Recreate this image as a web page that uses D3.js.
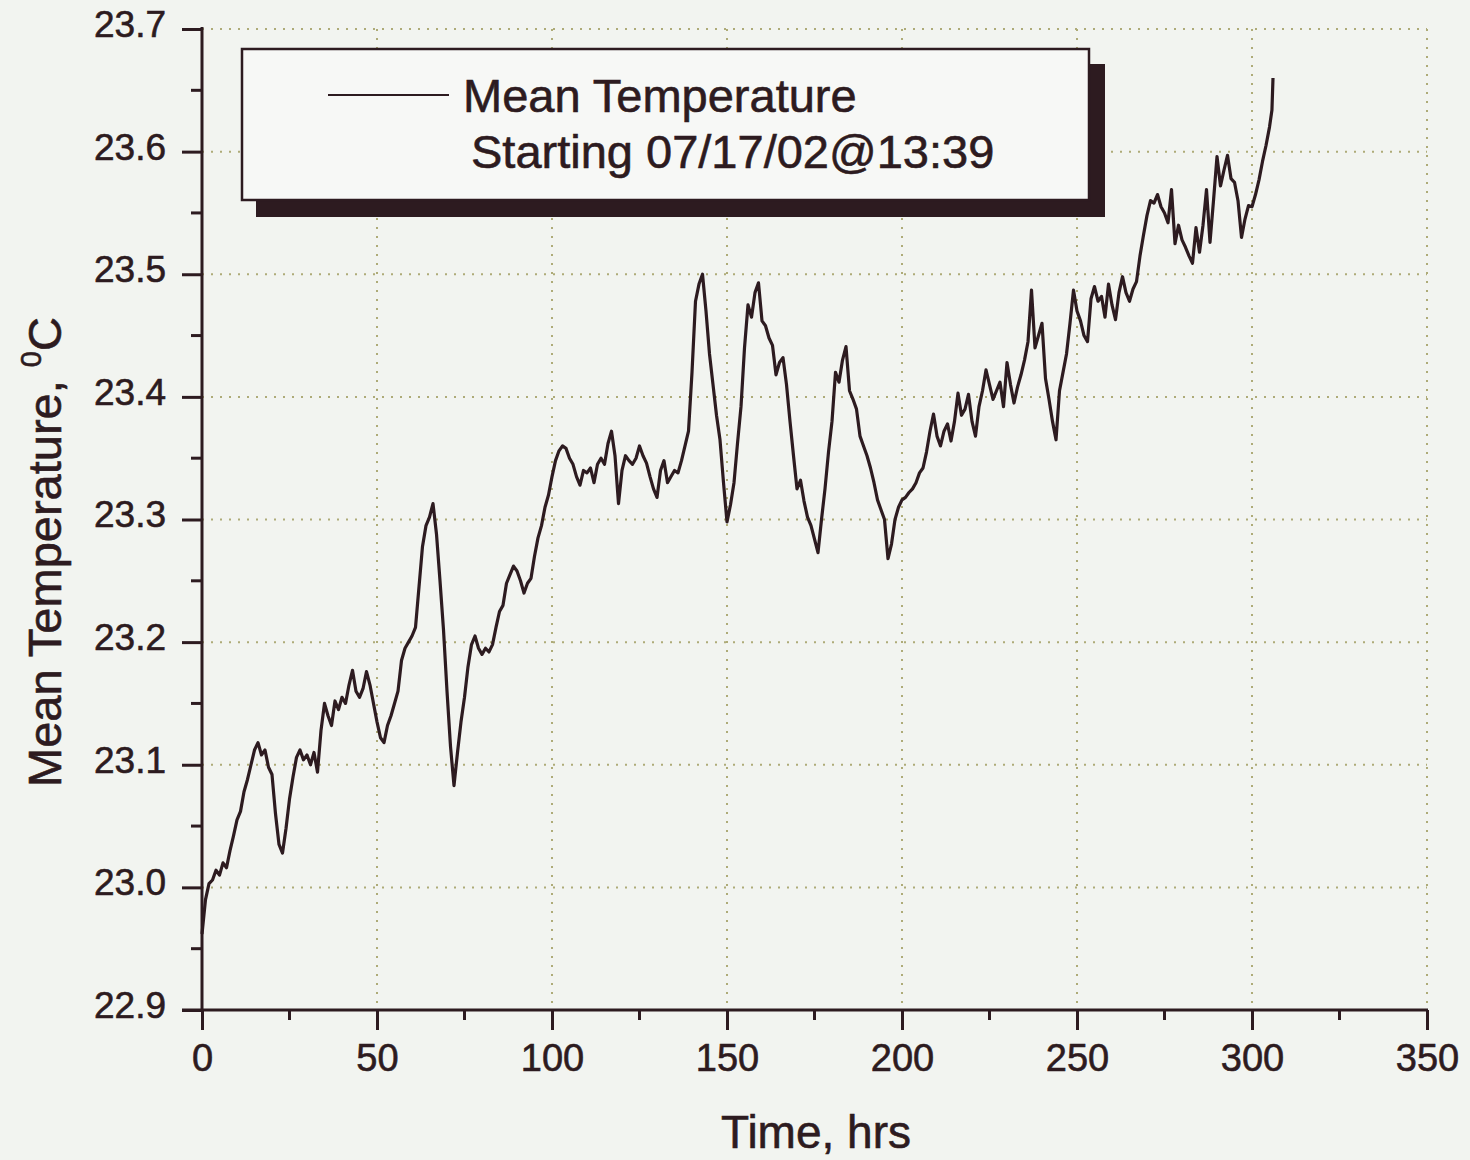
<!DOCTYPE html>
<html>
<head>
<meta charset="utf-8">
<script src="https://cdn.jsdelivr.net/npm/d3@7"></script>
<style>
  html, body { margin: 0; padding: 0; background: #f2f4f0; }
  svg { display: block; }
  text { font-family: "Liberation Sans", Arial, sans-serif; fill: #2d1b20; stroke: #2d1b20; stroke-width: 0.6px; }
</style>
</head>
<body>
<svg id="chart" width="1470" height="1160"></svg>
<script>
// ---- data ----
const timeHrs = [0,1,2,3,4,5,6,7,8,9,10,11,12,13,14,15,16,17,18,19,20,21,22,23,24,25,26,27,28,29,30,31,32,33,34,35,36,37,38,39,40,41,42,43,44,45,46,47,48,49,50,51,52,53,54,55,56,57,58,59,60,61,62,63,64,65,66,67,68,69,70,71,72,73,74,75,76,77,78,79,80,81,82,83,84,85,86,87,88,89,90,91,92,93,94,95,96,97,98,99,100,101,102,103,104,105,106,107,108,109,110,111,112,113,114,115,116,117,118,119,120,121,122,123,124,125,126,127,128,129,130,131,132,133,134,135,136,137,138,139,140,141,142,143,144,145,146,147,148,149,150,151,152,153,154,155,156,157,158,159,160,161,162,163,164,165,166,167,168,169,170,171,172,173,174,175,176,177,178,179,180,181,182,183,184,185,186,187,188,189,190,191,192,193,194,195,196,197,198,199,200,201,202,203,204,205,206,207,208,209,210,211,212,213,214,215,216,217,218,219,220,221,222,223,224,225,226,227,228,229,230,231,232,233,234,235,236,237,238,239,240,241,242,243,244,245,246,247,248,249,250,251,252,253,254,255,256,257,258,259,260,261,262,263,264,265,266,267,268,269,270,271,272,273,274,275,276,277,278,279,280,281,282,283,284,285,286,287,288,289,290,291,292,293,294,295,296,297,298,299,300,301,302,303,304,305,305.7,306];
const meanTemp = [22.962,22.990,23.003,23.006,23.014,23.010,23.020,23.016,23.030,23.042,23.055,23.062,23.078,23.088,23.100,23.112,23.118,23.108,23.112,23.098,23.092,23.060,23.035,23.028,23.048,23.072,23.090,23.106,23.112,23.104,23.108,23.100,23.110,23.094,23.128,23.150,23.140,23.132,23.152,23.145,23.155,23.150,23.165,23.177,23.160,23.155,23.162,23.176,23.165,23.150,23.135,23.122,23.118,23.132,23.140,23.150,23.160,23.185,23.195,23.200,23.205,23.212,23.245,23.278,23.295,23.302,23.313,23.288,23.250,23.210,23.160,23.115,23.083,23.110,23.135,23.155,23.180,23.198,23.205,23.195,23.190,23.195,23.192,23.198,23.212,23.225,23.230,23.248,23.255,23.262,23.258,23.250,23.240,23.248,23.252,23.270,23.285,23.295,23.310,23.320,23.335,23.348,23.356,23.360,23.358,23.350,23.345,23.335,23.328,23.340,23.338,23.342,23.330,23.345,23.350,23.345,23.362,23.372,23.352,23.313,23.340,23.352,23.348,23.345,23.350,23.360,23.352,23.346,23.335,23.325,23.318,23.340,23.348,23.330,23.335,23.340,23.338,23.348,23.360,23.372,23.420,23.478,23.492,23.500,23.470,23.435,23.410,23.385,23.365,23.330,23.298,23.312,23.330,23.362,23.392,23.440,23.475,23.465,23.485,23.493,23.462,23.458,23.448,23.442,23.418,23.428,23.432,23.410,23.380,23.352,23.325,23.332,23.315,23.302,23.295,23.284,23.273,23.300,23.325,23.355,23.380,23.420,23.412,23.430,23.441,23.405,23.398,23.390,23.368,23.360,23.352,23.342,23.330,23.316,23.308,23.300,23.268,23.280,23.300,23.310,23.316,23.318,23.322,23.325,23.330,23.338,23.342,23.355,23.372,23.386,23.368,23.360,23.372,23.378,23.364,23.380,23.403,23.385,23.390,23.402,23.380,23.368,23.392,23.405,23.422,23.410,23.398,23.405,23.412,23.392,23.428,23.410,23.395,23.408,23.418,23.430,23.445,23.487,23.440,23.450,23.460,23.415,23.398,23.380,23.365,23.405,23.420,23.435,23.460,23.487,23.470,23.462,23.450,23.445,23.480,23.490,23.478,23.482,23.465,23.492,23.475,23.463,23.485,23.498,23.485,23.478,23.488,23.494,23.515,23.532,23.548,23.560,23.558,23.565,23.555,23.550,23.542,23.569,23.525,23.540,23.528,23.522,23.515,23.509,23.538,23.518,23.540,23.569,23.526,23.560,23.596,23.572,23.585,23.597,23.578,23.575,23.560,23.530,23.545,23.556,23.555,23.565,23.577,23.592,23.605,23.620,23.634,23.660];
const xTicks = [0,50,100,150,200,250,300,350];
const yTicks = [22.9,23.0,23.1,23.2,23.3,23.4,23.5,23.6,23.7];
const yTickLabels = ["22.9","23.0","23.1","23.2","23.3","23.4","23.5","23.6","23.7"];
const legendLines = ["Mean Temperature", "Starting 07/17/02@13:39"];
const xTitle = "Time, hrs";

// ---- layout ----
const ink = "#2d1b20";
const svg = d3.select("#chart");
const plot = { left: 202, right: 1427, top: 29, bottom: 1010 };

const x = d3.scaleLinear().domain([0, 350]).range([plot.left, plot.right]);
const y = d3.scaleLinear().domain([22.9, 23.7]).range([plot.bottom, plot.top]);

// grid
const grid = svg.append("g").attr("stroke", "#aeab78").attr("stroke-width", 2)
  .attr("stroke-dasharray", "2,7").attr("fill", "none");
grid.selectAll("line.v").data(xTicks.filter(d => d > 0)).join("line")
  .attr("x1", d => x(d)).attr("x2", d => x(d)).attr("y1", plot.top).attr("y2", plot.bottom);
grid.selectAll("line.h").data(yTicks.filter(d => d > 22.9)).join("line")
  .attr("y1", d => y(d)).attr("y2", d => y(d)).attr("x1", plot.left).attr("x2", plot.right);

// axes
const xAxis = d3.axisBottom(x).tickValues(xTicks).tickSize(20).tickPadding(14)
  .tickFormat(d3.format("d"));
const gx = svg.append("g").attr("transform", `translate(0,${plot.bottom})`).call(xAxis);
gx.select(".domain").remove();
gx.selectAll(".tick line").attr("stroke", ink).attr("stroke-width", 3);
gx.selectAll(".tick text").attr("font-size", 38).attr("fill", ink)
  .attr("font-family", "Liberation Sans, Arial, sans-serif");
const xMinor = d3.range(25, 350, 50);
svg.append("g").selectAll("line").data(xMinor).join("line")
  .attr("x1", d => x(d)).attr("x2", d => x(d)).attr("y1", plot.bottom).attr("y2", plot.bottom + 10)
  .attr("stroke", ink).attr("stroke-width", 3);

const yAxis = d3.axisLeft(y).tickValues(yTicks).tickSize(20).tickPadding(16)
  .tickFormat((d, i) => yTickLabels[i]);
const gy = svg.append("g").attr("transform", `translate(${plot.left},0)`).call(yAxis);
gy.select(".domain").remove();
gy.selectAll(".tick line").attr("stroke", ink).attr("stroke-width", 3);
gy.selectAll(".tick text").attr("font-size", 37).attr("fill", ink).attr("dy", "0.2em")
  .attr("font-family", "Liberation Sans, Arial, sans-serif");
const yMinor = d3.range(8).map(i => 22.95 + i * 0.1);
svg.append("g").selectAll("line").data(yMinor).join("line")
  .attr("y1", d => y(d)).attr("y2", d => y(d)).attr("x1", plot.left - 11).attr("x2", plot.left)
  .attr("stroke", ink).attr("stroke-width", 3);

// axis lines
svg.append("line").attr("x1", plot.left).attr("x2", plot.left)
  .attr("y1", plot.top - 2).attr("y2", plot.bottom + 1.5).attr("stroke", ink).attr("stroke-width", 3);
svg.append("line").attr("x1", plot.left - 20).attr("x2", plot.right + 1)
  .attr("y1", plot.bottom).attr("y2", plot.bottom).attr("stroke", ink).attr("stroke-width", 3);

// data line
const line = d3.line().x((d, i) => x(timeHrs[i])).y(d => y(d));
svg.append("path").datum(meanTemp).attr("d", line)
  .attr("fill", "none").attr("stroke", ink).attr("stroke-width", 3.2)
  .attr("stroke-linejoin", "round");

// legend
const lg = svg.append("g");
lg.append("rect").attr("x", 256).attr("y", 64).attr("width", 849).attr("height", 153).attr("fill", ink);
lg.append("rect").attr("x", 242).attr("y", 49).attr("width", 847).attr("height", 151)
  .attr("fill", "#f7f8f6").attr("stroke", ink).attr("stroke-width", 2.5);
lg.append("line").attr("x1", 328).attr("x2", 449).attr("y1", 95).attr("y2", 95)
  .attr("stroke", ink).attr("stroke-width", 2);
lg.append("text").attr("x", 463).attr("y", 112).attr("font-size", 47).text(legendLines[0]);
lg.append("text").attr("x", 471).attr("y", 168).attr("font-size", 47).text(legendLines[1]);

// axis titles
svg.append("text").attr("x", 816).attr("y", 1148).attr("text-anchor", "middle")
  .attr("font-size", 46).text(xTitle);
const yt = svg.append("text").attr("transform", "translate(61,552) rotate(-90)")
  .attr("text-anchor", "middle").attr("font-size", 47);
yt.append("tspan").text("Mean Temperature, ");
yt.append("tspan").attr("font-size", 29).attr("dy", -20).text("0");
yt.append("tspan").attr("dy", 20).text("C");
</script>
</body>
</html>
